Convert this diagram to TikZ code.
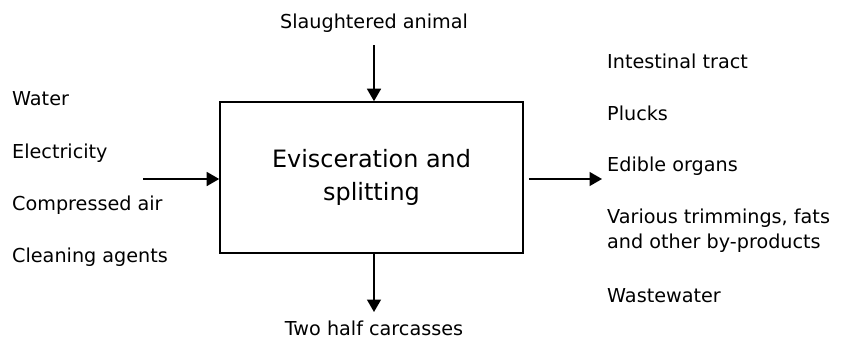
\documentclass[tikz,border=0pt]{standalone}
\usepackage{fontspec}
\setmainfont{DejaVu Sans}
\usetikzlibrary{arrows.meta}
\begin{document}
\begin{tikzpicture}[x=1pt,y=-1pt,
  lbl/.style={font=\fontsize{19.2}{25}\selectfont, inner sep=0pt},
  conn/.style={line width=1.6pt, -{Triangle[length=12.5pt,width=14pt]}},
  proc/.style={draw, line width=1.6pt, minimum width=303pt, minimum height=151pt, inner sep=0pt, align=center, font=\fontsize{23.9}{33}\selectfont}]
\useasboundingbox (0,0) rectangle (846,338);
\node[proc] (box) at (371.5,177.5) {Evisceration and\\splitting};
\node[lbl] (top) at (374,23) {Slaughtered animal};
\node[lbl] (bot) at (374,328) {Two half carcasses};
\node[lbl, anchor=west] (w) at (12,99) {Water};
\node[lbl, anchor=west] (e) at (12,153) {Electricity};
\node[lbl, anchor=west] (c) at (12,205) {Compressed air};
\node[lbl, anchor=west] (ca) at (12,257) {Cleaning agents};
\node[lbl, anchor=west] (it) at (607,61) {Intestinal tract};
\node[lbl, anchor=west] (pl) at (607,113) {Plucks};
\node[lbl, anchor=west] (eo) at (607,166) {Edible organs};
\node[lbl, anchor=west, align=left] (vt) at (607,231) {Various trimmings, fats\\and other by-products};
\node[lbl, anchor=west] (ww) at (607,296) {Wastewater};
\coordinate (tin) at (374,45);
\coordinate (lin) at (143,179);
\coordinate (rout) at (602,179);
\coordinate (bout) at (374,312);
\draw[conn] (tin) -- (box.north -| tin);
\draw[conn] (lin) -- (box.west |- lin);
\draw[conn] (box.east |- rout) ++(5,0) -- (rout);
\draw[conn] (box.south -| bout) -- (bout);
\end{tikzpicture}
\end{document}
